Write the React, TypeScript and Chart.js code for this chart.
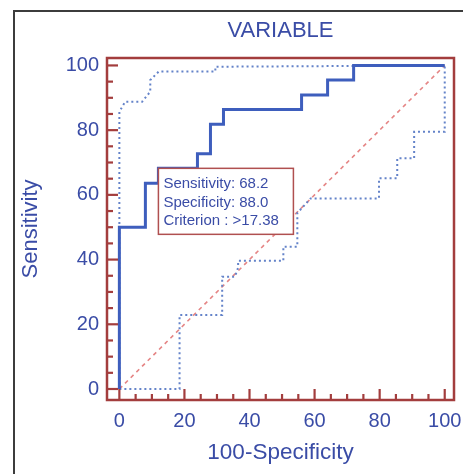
import React, { useEffect, useRef } from 'react';
import { Chart, registerables } from 'chart.js';

Chart.register(...registerables);

const TITLE = 'VARIABLE';
const X_TITLE = '100-Specificity';
const Y_TITLE = 'Sensitivity';
const MAJOR_TICKS = [0, 20, 40, 60, 80, 100];
const MINOR_TICKS = [5, 10, 15, 25, 30, 35, 45, 50, 55, 65, 70, 75, 85, 90, 95];

// ROC curve (100-Specificity, Sensitivity)
const rocX = [0, 0, 8, 8, 12, 12, 24, 24, 28, 28, 32, 32, 56, 56, 64, 64, 72, 72, 100];
const rocY = [0, 50, 50, 63.6, 63.6, 68.2, 68.2, 72.7, 72.7, 81.8, 81.8, 86.4, 86.4, 90.9, 90.9, 95.5, 95.5, 100, 100];

// Upper confidence bound
const upperX = [0, 0, 1.8, 7, 9.5, 9.5, 12.1, 29.5, 29.5, 100];
const upperY = [0, 85.7, 88.8, 88.8, 91.9, 95.5, 98.1, 98.1, 99.6, 100];

// Lower confidence bound
const lowerX = [0, 18.5, 18.5, 31.6, 31.6, 35.5, 36.5, 36.5, 50.4, 50.4, 54.7, 54.7, 58.8, 79.8, 79.8, 85.4, 85.4, 90.6, 90.6, 100, 100];
const lowerY = [0, 0, 22.9, 22.9, 34.7, 34.7, 37.5, 39.6, 39.6, 44.0, 44.0, 54.4, 58.9, 58.9, 65.1, 65.1, 71.3, 71.3, 79.5, 79.5, 100];

// Reference diagonal
const diagX = [0, 100];
const diagY = [0, 100];

// Criterion annotation
const INFO_X = 12;
const INFO_Y = 68.2;
const INFO_LINES = ['Sensitivity: 68.2', 'Specificity: 88.0', 'Criterion : >17.38'];

const FONT = "'Liberation Sans', Arial, Helvetica, sans-serif";
const TEXT_BLUE = '#3a4ca6';
const FRAME_RED = '#a33d3d';

const pts = (xs: number[], ys: number[]) => xs.map((x, i) => ({ x, y: ys[i] }));

const decorPlugin = {
  id: 'decor',
  beforeDraw(chart: any) {
    const { ctx, width, height } = chart;
    ctx.save();
    ctx.fillStyle = '#ffffff';
    ctx.fillRect(0, 0, width, height);
    ctx.strokeStyle = '#3c3c3c';
    ctx.lineWidth = 2;
    ctx.strokeRect(14, 11, width + 20, height + 20);
    ctx.restore();
  },
  afterDatasetsDraw(chart: any) {
    const { ctx, chartArea } = chart;
    const xs = chart.scales.x;
    const ys = chart.scales.y;
    ctx.save();
    // info box
    const bx = xs.getPixelForValue(INFO_X);
    const by = ys.getPixelForValue(INFO_Y);
    const bw = 135;
    const bh = 66;
    ctx.fillStyle = '#ffffff';
    ctx.fillRect(bx, by, bw, bh);
    ctx.strokeStyle = '#b05050';
    ctx.lineWidth = 1.5;
    ctx.strokeRect(bx, by, bw, bh);
    ctx.fillStyle = TEXT_BLUE;
    ctx.font = `15px ${FONT}`;
    ctx.textBaseline = 'alphabetic';
    ctx.textAlign = 'left';
    INFO_LINES.forEach((t, i) => {
      ctx.fillText(t, bx + 5, by + 20 + i * 18.5);
    });

    // frame
    ctx.strokeStyle = FRAME_RED;
    ctx.lineWidth = 2.5;
    ctx.strokeRect(chartArea.left, chartArea.top, chartArea.right - chartArea.left, chartArea.bottom - chartArea.top);
    // ticks
    ctx.lineWidth = 2.2;
    const drawX = (v: number, len: number) => {
      const p = xs.getPixelForValue(v);
      ctx.beginPath();
      ctx.moveTo(p, chartArea.bottom);
      ctx.lineTo(p, chartArea.bottom - len);
      ctx.stroke();
    };
    const drawY = (v: number, len: number) => {
      const p = ys.getPixelForValue(v);
      ctx.beginPath();
      ctx.moveTo(chartArea.left, p);
      ctx.lineTo(chartArea.left + len, p);
      ctx.stroke();
    };
    MAJOR_TICKS.forEach((v) => { drawX(v, 11); drawY(v, 11); });
    MINOR_TICKS.forEach((v) => { drawX(v, 6); drawY(v, 6); });
    ctx.restore();
  },
};

export default function App() {
  const ref = useRef<HTMLCanvasElement | null>(null);
  useEffect(() => {
    if (!ref.current) return;
    const chart = new Chart(ref.current, {
      type: 'line',
      data: {
        datasets: [
          {
            label: 'ROC',
            data: pts(rocX, rocY),
            borderColor: '#3e5ebd',
            borderWidth: 3,
            pointRadius: 0,
            fill: false,
            order: 0,
          } as any,
          {
            label: 'Upper',
            data: pts(upperX, upperY),
            borderColor: '#6483c9',
            borderWidth: 2,
            borderDash: [2, 3],
            pointRadius: 0,
            fill: false,
            order: 1,
          },
          {
            label: 'Lower',
            data: pts(lowerX, lowerY),
            borderColor: '#6483c9',
            borderWidth: 2,
            borderDash: [2, 3],
            pointRadius: 0,
            fill: false,
            order: 2,
          },
          {
            label: 'Diagonal',
            data: pts(diagX, diagY),
            borderColor: '#e58585',
            borderWidth: 1.6,
            borderDash: [4, 4],
            pointRadius: 0,
            fill: false,
            order: 3,
          },
        ],
      },
      options: {
        responsive: false,
        animation: false,
        devicePixelRatio: 1,
        layout: { padding: { left: 0, right: 9, top: 0, bottom: 0 } },
        plugins: {
          legend: { display: false },
          tooltip: { enabled: false },
          title: {
            display: true,
            fullSize: false,
            text: TITLE,
            color: TEXT_BLUE,
            font: { family: FONT, size: 22, weight: 'normal' },
            padding: { top: 18, bottom: 13.6 },
          },
        },
        scales: {
          x: {
            type: 'linear',
            min: -3.8,
            max: 102.85,
            grid: { display: false, drawTicks: false },
            border: { display: false },
            afterBuildTicks: (s: any) => { s.ticks = MAJOR_TICKS.map((v) => ({ value: v })); },
            afterFit: (s: any) => { s.height = 74; s.paddingLeft = 0; s.paddingRight = 0; },
            ticks: { color: TEXT_BLUE, font: { family: FONT, size: 20 }, padding: 9, maxRotation: 0, autoSkip: false },
            title: { display: true, text: X_TITLE, color: TEXT_BLUE, font: { family: FONT, size: 22.5 }, padding: { top: 0, bottom: 7.5 } },
          },
          y: {
            type: 'linear',
            min: -3.4,
            max: 102.3,
            grid: { display: false, drawTicks: false },
            border: { display: false },
            afterBuildTicks: (s: any) => { s.ticks = MAJOR_TICKS.map((v) => ({ value: v })); },
            afterFit: (s: any) => { s.width = 107; s.paddingTop = 0; s.paddingBottom = 0; },
            ticks: { color: TEXT_BLUE, font: { family: FONT, size: 20 }, padding: 8, autoSkip: false },
            title: { display: true, text: Y_TITLE, color: TEXT_BLUE, font: { family: FONT, size: 22 }, padding: { top: 18, bottom: 0 } },
          },
        },
      } as any,
      plugins: [decorPlugin],
    });
    return () => chart.destroy();
  }, []);
  return (
    <div style={{ position: 'absolute', left: 0, top: 0, width: 463, height: 474 }}>
      <canvas ref={ref} width={463} height={474} style={{ display: 'block' }} />
    </div>
  );
}
